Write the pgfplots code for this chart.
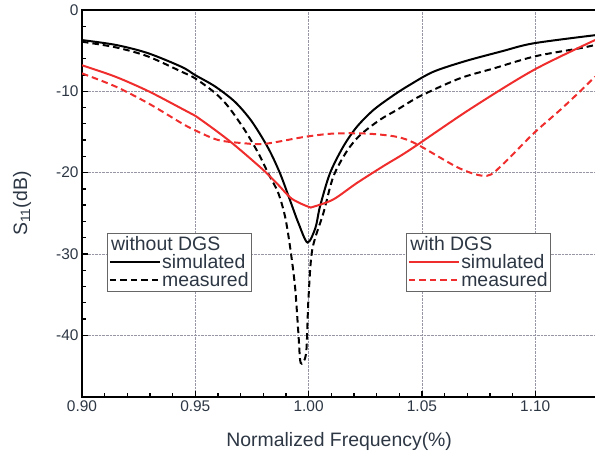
\documentclass[border=0pt]{standalone}
\usepackage{pgfplots}
\pgfplotsset{compat=1.18}
\usepackage{fontspec}
\setmainfont{Liberation Sans}
\definecolor{txt}{RGB}{45,55,68}
\definecolor{myred}{RGB}{240,45,45}
\definecolor{gridc}{RGB}{150,150,165}
\begin{document}
\begin{tikzpicture}
\pgfplotsset{
  base/.style={
    scale only axis, width=514.4bp, height=387bp, at={(0,0)}, anchor=south west,
    xmin=0.9, xmax=1.127, ymin=-47.6, ymax=0,
    legend image code/.code={\draw[##1, line width=2bp] (0bp,0bp) -- (50bp,0bp);},
    legend cell align=left,
    legend style={draw=black!60, line width=0.8bp, fill=white, text=txt,
      font=\fontsize{19.5}{22}\selectfont, inner sep=1.5bp,
      nodes={inner sep=1.3bp}, anchor=north west},
  }
}
\begin{axis}[base,
  xtick={0.90,0.95,1.00,1.05,1.10}, ytick={-40,-30,-20,-10,0},
  minor x tick num=4, minor y tick num=4,
  xtick pos=bottom, ytick pos=left,
  tick align=inside, major tick length=6bp, minor tick length=4bp,
  every tick/.style={black, line width=1.3bp},
  axis line style={line width=1.6bp},
  xmajorgrids=true, ymajorgrids=true, xminorgrids=false, yminorgrids=false,
  major grid style={gridc, densely dotted, line width=0.6bp},
  minor grid style={draw=none},
  /pgf/number format/assume math mode=true,
  xticklabel style={/pgf/number format/.cd, fixed, fixed zerofill, precision=2},
  yticklabel style={/pgf/number format/.cd, fixed},
  ticklabel style={text=txt, font=\fontsize{15.5}{18}\selectfont},
  xlabel={Normalized Frequency(\%)},
  ylabel={S\textsubscript{11}(dB)},
  label style={text=txt, font=\fontsize{19.5}{22}\selectfont},
  xlabel style={at={(axis description cs:0.5,-0.0827)}, anchor=north},
  ylabel style={at={(axis description cs:-0.1166,0.5)}, anchor=center},
  legend style={at={(0.0486,0.4238)}},
]
\addlegendimage{empty legend}
\addlegendentry{\hspace{-51bp}without DGS}
\addplot[black, line width=2bp, smooth, tension=0.5] table {
0.900 -3.7
0.915 -4.3
0.929 -5.3
0.944 -7.0
0.9499 -8.0
0.9587 -9.4
0.9675 -11.3
0.9749 -13.7
0.9822 -17.0
0.9874 -20.1
0.9918 -23.4
0.9955 -26.2
0.9995 -28.6
1.003 -26.8
1.005 -24.2
1.0094 -20.1
1.0153 -16.8
1.0212 -14.4
1.0286 -12.3
1.0374 -10.5
1.0447 -9.2
1.055 -7.6
1.069 -6.3
1.085 -5.1
1.0992 -4.1
1.1264 -3.1
};
\addlegendentry{simulated}
\addplot[black, line width=2bp, dash pattern=on 6.5bp off 4bp, smooth, tension=0.5] table {
0.900 -3.9
0.915 -4.6
0.929 -5.7
0.944 -7.6
0.9499 -8.4
0.9587 -10.2
0.9646 -11.9
0.9719 -14.8
0.9778 -17.6
0.9822 -20.1
0.9866 -22.5
0.9896 -25.4
0.9918 -29.1
0.994 -34.0
0.9955 -39.8
0.9965 -43.4
0.9989 -42.2
0.9999 -35.7
1.0016 -29.5
1.0065 -25.0
1.0109 -20.5
1.0168 -17.4
1.0227 -15.4
1.0315 -13.5
1.0389 -12.3
1.0447 -11.3
1.0506 -10.4
1.0668 -8.4
1.0815 -7.2
1.0999 -5.7
1.1198 -4.7
1.1264 -4.3
};
\addlegendentry{measured}
\end{axis}
\begin{axis}[base, hide axis,
  legend style={at={(0.630,0.4238)}},
]
\addlegendimage{empty legend}
\addlegendentry{\hspace{-51bp}with DGS}
\addplot[myred, line width=2bp, smooth, tension=0.5] table {
0.900 -6.8
0.9147 -8.2
0.9294 -10.0
0.9438 -12.1
0.9499 -13.0
0.9646 -16.0
0.9793 -19.5
0.9866 -21.5
0.9925 -23.2
0.9999 -24.2
1.0021 -24.2
1.0109 -23.3
1.0212 -21.3
1.033 -19.2
1.0447 -17.2
1.0712 -12.2
1.0992 -7.4
1.1264 -3.7
};
\addlegendentry{simulated}
\addplot[myred, line width=2bp, dash pattern=on 6.5bp off 4bp, smooth, tension=0.5] table {
0.900 -7.8
0.9147 -9.4
0.9294 -11.5
0.9438 -13.9
0.9499 -14.8
0.9602 -16.0
0.9719 -16.4
0.9793 -16.5
0.9866 -16.2
0.9984 -15.6
1.0109 -15.2
1.0256 -15.2
1.0389 -15.6
1.0477 -16.5
1.0668 -19.5
1.0786 -20.4
1.086 -18.9
1.0992 -15.2
1.111 -12.3
1.1198 -10.0
1.1264 -8.2
};
\addlegendentry{measured}
\end{axis}
\pgfresetboundingbox
\useasboundingbox (-82bp,-61bp) rectangle (513bp,397bp);
\end{tikzpicture}
\end{document}
